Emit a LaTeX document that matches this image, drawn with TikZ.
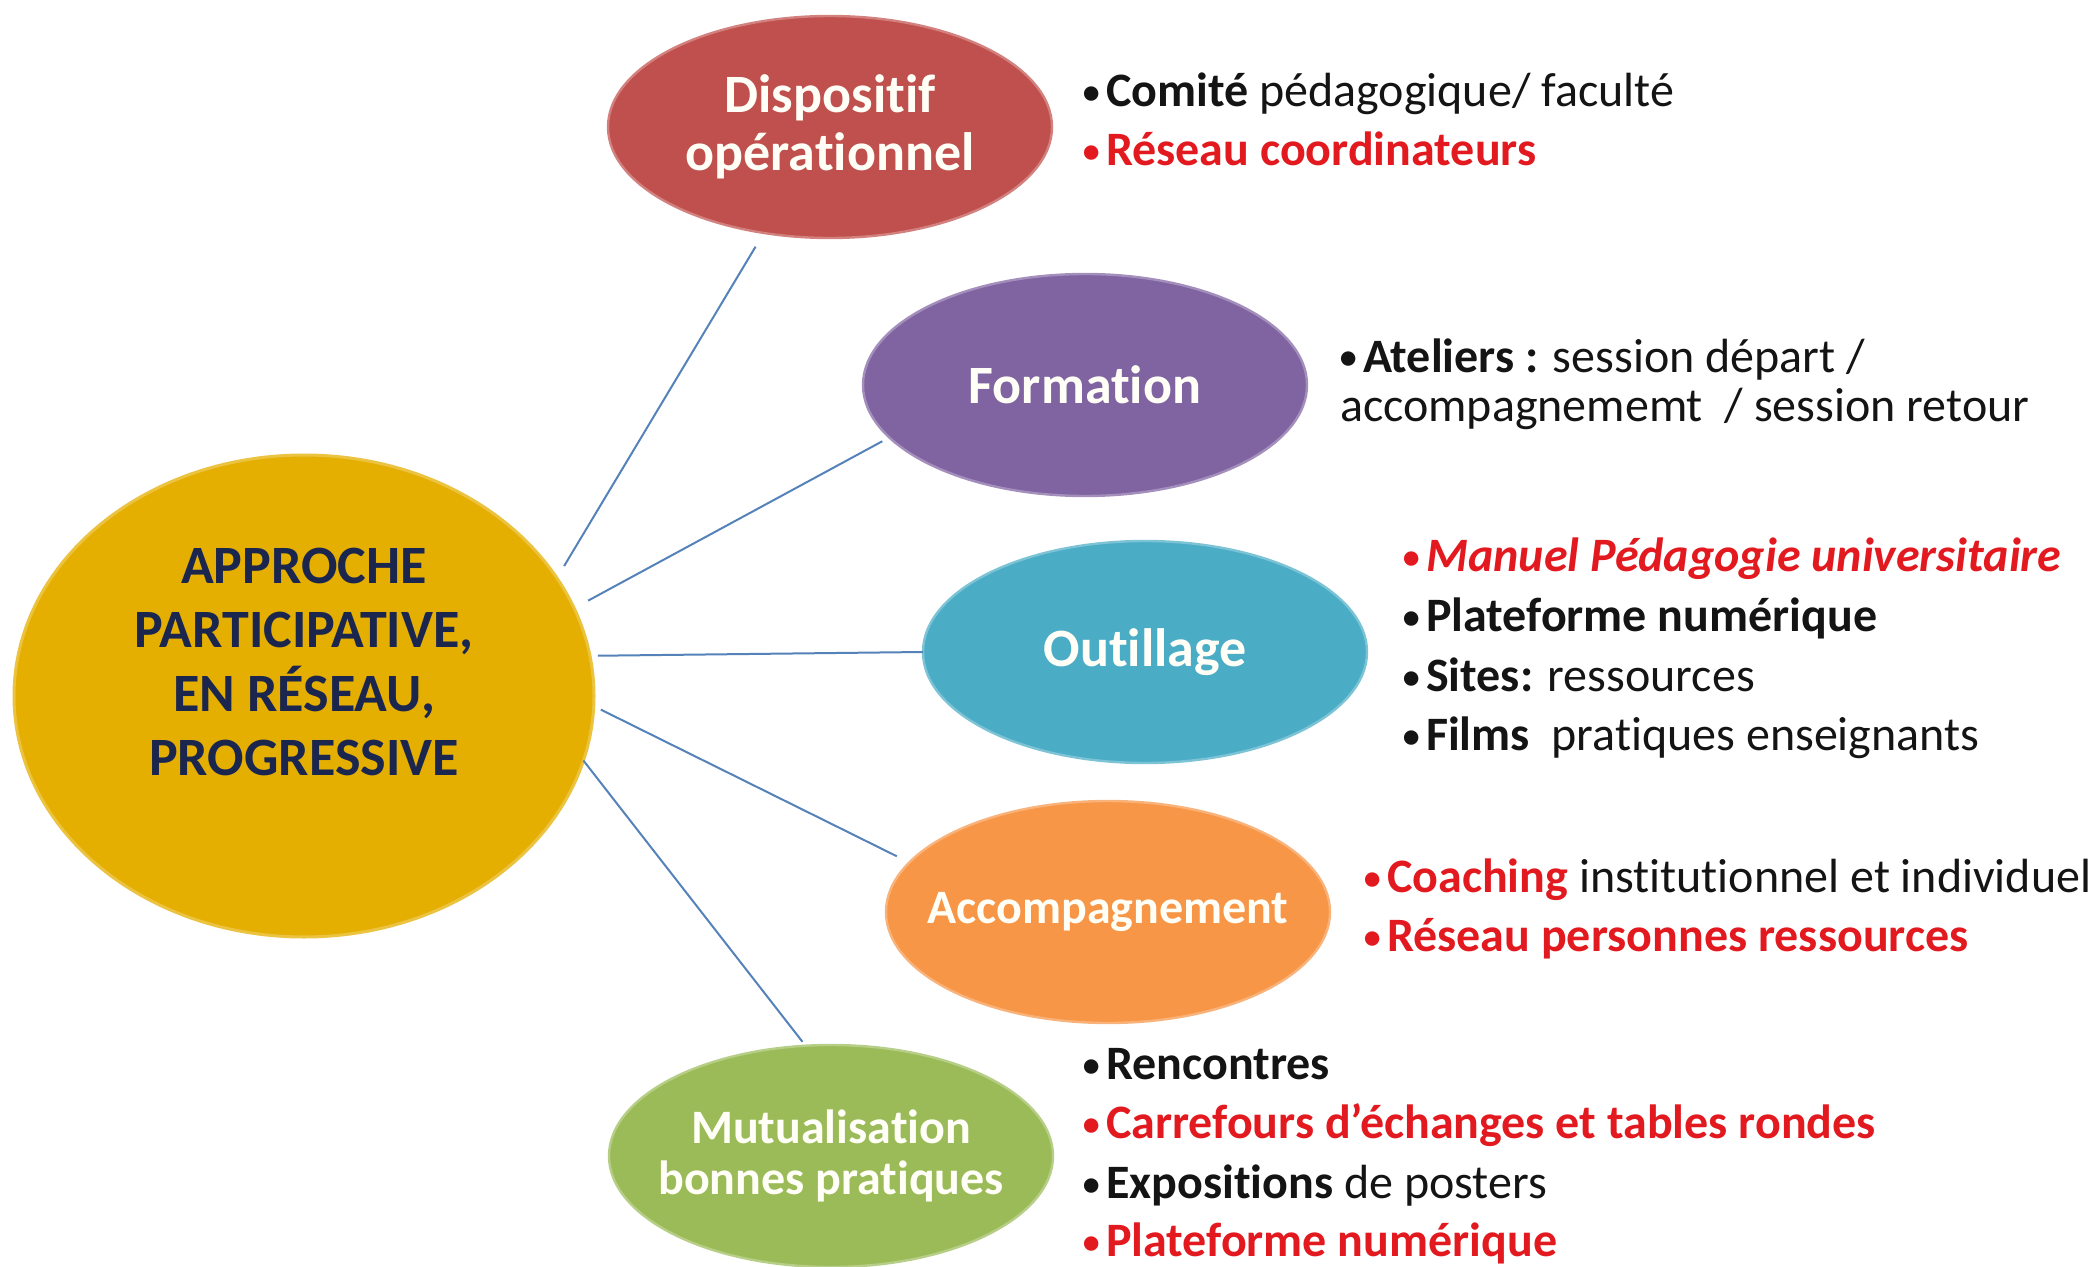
\documentclass[tikz,border=0pt]{standalone}
\usepackage{fontspec}
\setmainfont{Carlito}[Ligatures=NoCommon]
\usetikzlibrary{shapes.geometric}

\definecolor{hubfill}{RGB}{229,175,2}
\definecolor{hubtext}{RGB}{27,38,78}
\definecolor{cred}{RGB}{192,80,77}
\definecolor{cpurple}{RGB}{128,100,162}
\definecolor{cblue}{RGB}{75,172,198}
\definecolor{corange}{RGB}{246,150,70}
\definecolor{cgreen}{RGB}{155,187,89}
\definecolor{linkc}{RGB}{85,130,185}
\definecolor{hot}{RGB}{226,26,32}
\definecolor{ink}{RGB}{20,20,20}

\tikzset{
  bubble/.style={ellipse, inner sep=0pt, outer sep=0pt,
    minimum width=222pt, minimum height=111pt,
    fill=#1, draw=#1!72!white, line width=1.2pt},
  caption/.style={text=white!97!yellow, align=center},
  bigtxt/.style={caption, font=\bfseries\fontsize{27}{29}\selectfont},
  smalltxt/.style={caption, font=\bfseries\fontsize{24}{25.5}\selectfont},
  item/.style={anchor=base west, inner sep=0pt, outer sep=0pt,
    text=ink, font=\fontsize{24}{25}\selectfont},
  link/.style={draw=linkc, line width=1pt},
}

\newcommand{\bul}{\raisebox{0.5pt}{\scalebox{0.85}{\textbullet}}\hspace{2.4pt}}

\begin{document}
\begin{tikzpicture}[x=0.5pt, y=-0.5pt]
\useasboundingbox (0,0) rectangle (2098,1267);

% central hub
\node[ellipse, inner sep=0pt, outer sep=0pt, minimum width=290pt, minimum height=241pt,
      fill=hubfill, draw=hubfill!75!white, line width=1.5pt] (hub) at (304,696) {};
\node[align=center, text=hubtext, font=\bfseries\fontsize{27}{32}\selectfont] (hubtxt) at (304,662)
  {APPROCHE\\PARTICIPATIVE,\\EN RÉSEAU,\\PROGRESSIVE};

% the five branches (captions as centred labels so the ellipse keeps its size)
\node[bubble=cred,    label={[bigtxt]center:{Dispositif\\opérationnel}}]      (disp)   at (830,127)  {};
\node[bubble=cpurple, label={[bigtxt]center:Formation}]                      (form)   at (1085,385) {};
\node[bubble=cblue,   label={[bigtxt]center:Outillage}]                      (outil)  at (1145,652) {};
\node[bubble=corange, label={[smalltxt]center:Accompagnement}]               (accomp) at (1108,912) {};
\node[bubble=cgreen,  label={[smalltxt]center:{Mutualisation\\bonnes pratiques}}] (mutu) at (831,1156) {};

% connectors
\draw[link, shorten <=7pt, shorten >=8pt] (hub.25.3) -- (disp.238.5);
\draw[link, shorten <=8pt, shorten >=4pt] (hub.18.3) -- (form.195.8);
\draw[link, shorten <=4pt]                (hub.8.3)  -- (outil.180);
\draw[link, shorten <=4pt, shorten >=7pt] (hub.-2.5) -- (accomp.166.3);
\draw[link, shorten >=2.5pt]              (hub.-13.9) -- (mutu.103.7);

% Dispositif opérationnel
\node[item] (d1) at (1081,107) {\bul\textbf{Comité} pédagogique/ faculté};
\node[item, text=hot] (d2) at (1081,166) {\bul\textbf{Réseau coordinateurs}};

% Formation
\node[item] (f1) at (1338,372) {\bul\textbf{Ateliers :} session départ /};
\node[item] (f2) at (1340,422) {accompagnememt \ / session retour};

% Outillage
\node[item, text=hot] (o1) at (1401,571) {\bul\textbf{\itshape Manuel Pédagogie universitaire}};
\node[item] (o2) at (1401,631) {\bul\textbf{Plateforme numérique}};
\node[item] (o3) at (1401,691) {\bul\textbf{Sites:} ressources};
\node[item] (o4) at (1401,750) {\bul\textbf{Films} \ pratiques enseignants};

% Accompagnement
\node[item] (a1) at (1362,892) {\textcolor{hot}{\bul\textbf{Coaching}} institutionnel et individuel};
\node[item, text=hot] (a2) at (1362,951) {\bul\textbf{Réseau personnes ressources}};

% Mutualisation bonnes pratiques
\node[item] (m1) at (1081,1079) {\bul\textbf{Rencontres}};
\node[item, text=hot] (m2) at (1081,1138) {\bul\textbf{Carrefours d’échanges et tables rondes}};
\node[item] (m3) at (1081,1198) {\bul\textbf{Expositions} de posters};
\node[item, text=hot] (m4) at (1081,1256) {\bul\textbf{Plateforme numérique}};
\end{tikzpicture}
\end{document}
